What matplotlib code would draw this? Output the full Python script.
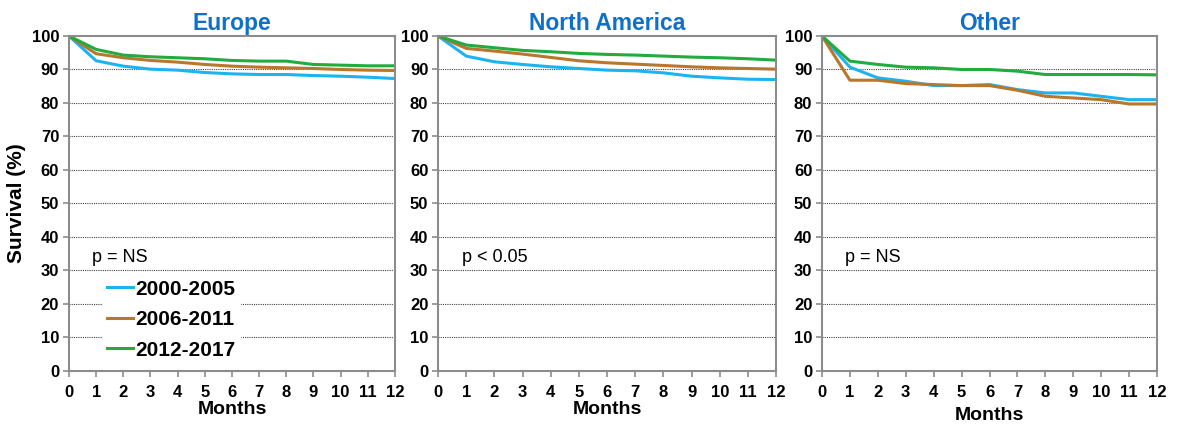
import matplotlib.pyplot as plt

plt.rcParams["font.family"] = ["Liberation Sans", "DejaVu Sans"]

months = list(range(13))

regions = ["Europe", "North America", "Other"]
p_texts = ["p = NS", "p < 0.05", "p = NS"]
periods = ["2000-2005", "2006-2011", "2012-2017"]

europe_2000 = [100, 92.6, 91.0, 90.1, 89.8, 89.1, 88.7, 88.5, 88.5, 88.2, 88.0, 87.7, 87.3]
europe_2006 = [100, 94.7, 93.5, 92.7, 92.2, 91.5, 91.0, 90.7, 90.5, 90.3, 90.0, 89.8, 89.7]
europe_2012 = [100, 96.0, 94.3, 93.8, 93.5, 93.2, 92.7, 92.5, 92.5, 91.5, 91.3, 91.1, 91.1]

namerica_2000 = [100, 94.0, 92.3, 91.5, 90.8, 90.3, 89.8, 89.6, 89.0, 88.0, 87.5, 87.1, 87.0]
namerica_2006 = [100, 96.3, 95.5, 94.6, 93.6, 92.6, 92.0, 91.6, 91.2, 90.8, 90.5, 90.3, 90.1]
namerica_2012 = [100, 97.3, 96.5, 95.7, 95.3, 94.8, 94.5, 94.3, 94.0, 93.7, 93.5, 93.2, 92.8]

other_2000 = [100, 90.7, 87.5, 86.5, 85.2, 85.2, 85.5, 84.0, 83.0, 83.0, 82.0, 81.0, 81.0]
other_2006 = [100, 86.8, 86.8, 85.8, 85.5, 85.2, 85.2, 83.8, 82.0, 81.5, 81.0, 79.7, 79.7]
other_2012 = [100, 92.5, 91.5, 90.7, 90.5, 90.0, 90.0, 89.5, 88.5, 88.5, 88.5, 88.5, 88.4]

data = [
    [europe_2000, europe_2006, europe_2012],
    [namerica_2000, namerica_2006, namerica_2012],
    [other_2000, other_2006, other_2012],
]

colors = ["#1cb4f0", "#b8772c", "#22ab3e"]
title_color = "#1070c8"
spine_color = "#8c8c8c"

fig = plt.figure(figsize=(11.81, 4.28), dpi=100)

axes_pos = [
    [0.0584, 0.1332, 0.2760, 0.7827],
    [0.3709, 0.1332, 0.2862, 0.7827],
    [0.6960, 0.1332, 0.2837, 0.7827],
]

for i in range(3):
    ax = fig.add_axes(axes_pos[i])

    for j in range(3):
        ax.plot(
            months,
            data[i][j],
            color=colors[j],
            linewidth=2.2,
            label=periods[j],
            solid_joinstyle="round"
        )

    ax.set_xlim(0, 12)
    ax.set_ylim(0, 100)
    ax.set_xticks(months)
    ax.set_yticks(range(0, 101, 10))

    for y in range(10, 100, 10):
        ax.axhline(
            y,
            color="#444444",
            linewidth=0.8,
            linestyle=(0, (1, 1)),
            zorder=0
        )

    for side in ["left", "right", "top", "bottom"]:
        ax.spines[side].set_color(spine_color)
        ax.spines[side].set_linewidth(1.5)

    ax.tick_params(
        direction="out",
        length=4,
        width=1.2,
        color=spine_color,
        labelsize=12,
        pad=3
    )
    ax.tick_params(axis="x", pad=6)

    for lab in ax.get_xticklabels() + ax.get_yticklabels():
        lab.set_fontweight("bold")

    ax.set_title(
        regions[i],
        color=title_color,
        fontsize=16.5,
        fontweight="bold",
        pad=4
    )

    ax.set_xlabel(
        "Months",
        fontsize=14,
        fontweight="bold",
        labelpad=1 if i < 2 else 5
    )

    ax.text(
        0.07,
        0.34,
        p_texts[i],
        transform=ax.transAxes,
        fontsize=13,
        va="center"
    )

    if i == 0:
        ax.set_ylabel(
            "Survival (%)",
            fontsize=15,
            fontweight="bold",
            labelpad=4
        )

        leg = ax.legend(
            loc="upper left",
            bbox_to_anchor=(0.105, 0.285),
            frameon=True,
            facecolor="white",
            edgecolor="white",
            framealpha=1,
            fancybox=False,
            handlelength=1.25,
            handletextpad=0.1,
            labelspacing=0.55,
            borderpad=0.2,
            borderaxespad=0,
            prop={"weight": "bold", "size": 15}
        )
        leg.set_zorder(1)

fig.savefig("out.png", dpi=100)
